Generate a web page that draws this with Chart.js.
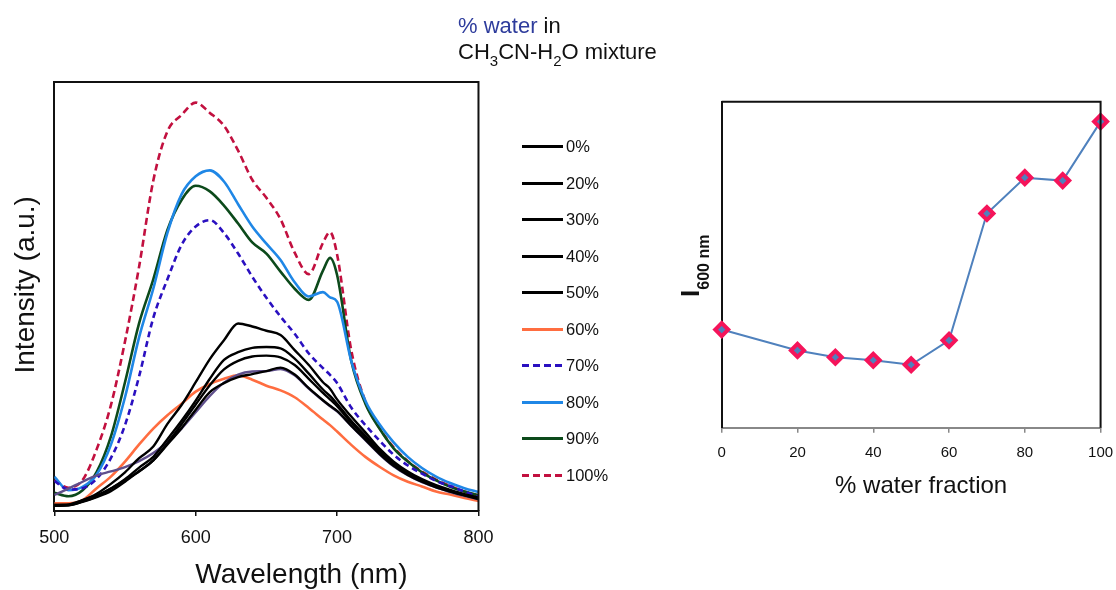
<!DOCTYPE html>
<html lang="en">
<head>
<meta charset="UTF-8">
<title>Emission vs water fraction</title>
<script src="https://cdn.jsdelivr.net/npm/chart.js"></script>
<style>
  body { margin: 0; background: #fff; font-family: 'Liberation Sans', Arial, sans-serif; color: #111; }
  .wrap { position: relative; width: 1116px; height: 590px; overflow: hidden; }
  canvas { position: absolute; top: 0; }
  #spectra { left: 0; }
  #trend { left: 660px; }
  .head { position: absolute; left: 458px; font-size: 22px; line-height: 26px; white-space: nowrap; }
  .head sub { font-size: 15px; vertical-align: baseline; position: relative; top: 7px; }
  .blue { color: #2e3c9c; }
  .legRow { position: absolute; left: 522px; height: 20px; display: flex; align-items: center; font-size: 16.5px; }
  .legLine { width: 41px; height: 3px; margin-right: 3px; }
  #ytitle { position: absolute; left: 675px; top: 297px; transform: rotate(-90deg); transform-origin: left top;
            font-size: 26px; line-height: 30px; font-weight: bold; white-space: nowrap; }
  #ytitle span { font-size: 16px; position: relative; top: 10px; }
</style>
</head>
<body>
<div class="wrap">
  <canvas id="spectra" width="505" height="590"></canvas>
  <canvas id="trend" width="464" height="590"></canvas>
  <div class="head" style="top:13px"><span class="blue">% water</span> in</div>
  <div class="head" style="top:39px">CH<sub>3</sub>CN-H<sub>2</sub>O mixture</div>
  <div id="legend"></div>
  <div id="ytitle">I<span>600 nm</span></div>
</div>
<script>
// wavelengths (nm) and emission intensity (a.u.)
const wavelengths = [500, 510, 520, 530, 540, 550, 560, 570, 580, 590, 600, 610, 620, 630, 640, 650,
                     660, 670, 680, 690, 695, 700, 710, 720, 730, 740, 750, 760, 770, 780, 790, 800];

const water0   = [1.4, 1.4, 2.5, 4.0, 6.3, 9.0, 12.3, 15.0, 20.3, 24.7, 30.0, 35.4, 39.8, 43.7, 43.0, 42.0,
                  41.0, 37.5, 34.0, 30.0, 28.5, 26.0, 22.0, 18.3, 14.5, 11.5, 9.2, 7.4, 6.0, 4.9, 3.9, 3.1];
const water20  = [1.2, 1.3, 2.2, 3.4, 5.2, 7.4, 10.1, 12.6, 16.7, 21.0, 25.7, 30.8, 35.2, 37.0, 38.0, 38.2,
                  37.9, 35.5, 32.0, 28.3, 26.8, 25.0, 21.0, 17.5, 14.0, 11.0, 8.8, 7.1, 5.8, 4.7, 3.8, 3.0];
const water30  = [1.2, 1.3, 2.1, 3.2, 4.6, 6.8, 9.3, 11.8, 15.8, 20.2, 24.8, 29.3, 33.0, 35.0, 36.0, 36.2,
                  35.8, 34.0, 30.8, 27.5, 26.0, 24.4, 20.6, 17.2, 13.7, 10.8, 8.6, 7.0, 5.7, 4.6, 3.7, 2.9];
const water40  = [1.4, 1.5, 2.5, 3.6, 5.2, 7.2, 9.2, 11.8, 15.5, 19.3, 23.6, 27.7, 29.8, 31.2, 31.9, 32.6,
                  33.4, 31.8, 28.6, 25.8, 24.5, 23.3, 19.9, 16.6, 13.3, 10.5, 8.4, 6.8, 5.5, 4.5, 3.6, 2.8];
const water50  = [3.7, 5.2, 6.8, 8.3, 9.2, 10.2, 11.6, 13.5, 16.1, 19.2, 23.0, 26.8, 29.9, 31.8, 32.5, 32.6,
                  33.1, 31.6, 28.5, 25.7, 24.4, 23.2, 19.8, 16.5, 13.2, 10.4, 8.3, 6.7, 5.5, 4.4, 3.5, 2.7];
const water60  = [1.8, 1.8, 2.5, 5.3, 8.0, 11.5, 15.5, 19.2, 22.3, 25.0, 27.8, 29.6, 30.8, 31.6, 30.6, 29.2,
                  28.1, 26.5, 24.0, 21.3, 20.0, 18.5, 15.4, 12.6, 10.3, 8.3, 6.8, 5.7, 4.5, 3.8, 3.0, 2.3];
const water70  = [7.0, 5.0, 5.3, 7.5, 12.3, 20.0, 31.4, 45.0, 54.0, 62.0, 66.3, 67.8, 64.8, 60.0, 54.6, 49.7,
                  45.3, 41.3, 36.7, 33.3, 31.7, 29.8, 24.1, 20.0, 16.4, 13.1, 10.6, 8.7, 7.0, 5.8, 4.5, 3.3];
const water80  = [8.0, 4.8, 5.6, 8.5, 15.4, 26.5, 40.5, 51.8, 64.8, 73.8, 78.0, 79.4, 76.8, 71.5, 66.3, 62.3,
                  58.5, 53.3, 50.0, 51.0, 49.8, 48.8, 35.0, 25.7, 20.2, 16.0, 12.6, 10.0, 8.0, 6.5, 5.3, 4.4];
const water90  = [4.2, 3.4, 4.8, 9.1, 17.3, 30.0, 43.8, 54.0, 65.5, 72.5, 75.8, 74.5, 71.2, 67.0, 62.6, 60.0,
                  55.8, 51.8, 49.2, 56.0, 59.0, 55.0, 35.0, 25.0, 19.2, 14.6, 11.5, 9.0, 7.1, 5.6, 4.5, 3.7];
const water100 = [7.2, 5.4, 7.2, 14.4, 24.6, 39.5, 57.0, 77.0, 88.5, 92.3, 95.2, 92.8, 89.8, 84.0, 77.2, 73.0,
                  68.0, 60.2, 55.2, 62.5, 65.0, 59.8, 37.5, 25.5, 19.3, 14.8, 11.6, 9.2, 7.3, 5.8, 4.5, 3.6];

const seriesLabels = ['0%', '20%', '30%', '40%', '50%', '60%', '70%', '80%', '90%', '100%'];
const spectra = [water0, water20, water30, water40, water50, water60, water70, water80, water90, water100];

// I600 vs % water
const waterFraction = [0, 20, 30, 40, 50, 60, 70, 80, 90, 100];
const intensity600 = [30.1, 23.7, 21.6, 20.7, 19.3, 26.8, 65.7, 76.7, 75.8, 93.9];

const lineColors = ['#000', '#000', '#000', '#000', '#5f4f8c', '#ff6d40', '#2a10c0', '#1f87e6', '#0c4a1b', '#c2103f'];
const legendColors = ['#000', '#000', '#000', '#000', '#000', '#ff6d40', '#2a10c0', '#1f87e6', '#0c4a1b', '#c2103f'];
const dashes = [[], [], [], [], [], [], [6, 4], [], [], [7, 4]];

const family = "'Liberation Sans', Arial, sans-serif";

// top + right edge of the box round the plot
const framePlugin = {
    id: 'frame',
    afterDraw(chart) {
        const { ctx, chartArea: a } = chart;
        ctx.save();
        ctx.strokeStyle = '#111';
        ctx.lineWidth = 2;
        ctx.beginPath();
        ctx.moveTo(a.left, a.top);
        ctx.lineTo(a.right, a.top);
        ctx.lineTo(a.right, a.bottom);
        ctx.stroke();
        ctx.restore();
    }
};

new Chart(document.getElementById('spectra'), {
    type: 'line',
    data: {
        datasets: seriesLabels.map((lab, i) => ({
            label: lab,
            data: wavelengths.map((w, j) => ({ x: w, y: spectra[i][j] })),
            borderColor: lineColors[i],
            borderWidth: i >= 5 ? 2.6 : 2.4,
            borderDash: dashes[i],
            pointRadius: 0,
            cubicInterpolationMode: 'monotone',
            fill: false
        }))
    },
    options: {
        responsive: false,
        animation: false,
        layout: { padding: { left: 0, top: 82, right: 0, bottom: 0 } },
        plugins: { legend: { display: false }, tooltip: { enabled: false } },
        scales: {
            x: {
                type: 'linear', min: 500, max: 800,
                ticks: { stepSize: 100, padding: 11.5, color: '#111', font: { size: 18, family: family } },
                grid: { drawOnChartArea: false, tickLength: 5, color: '#111', lineWidth: 1.5 },
                border: { color: '#111', width: 2 },
                // leading spaces push the title right, as in the original figure
                title: { display: true, text: '         Wavelength (nm)', color: '#111',
                         font: { size: 28, family: family, lineHeight: 1 }, padding: { top: 0.5, bottom: 1 } }
            },
            y: {
                min: 0, max: 100,
                ticks: { display: false },
                grid: { display: false, drawTicks: false },
                border: { color: '#111', width: 2 },
                title: { display: true, text: '   Intensity (a.u.)', color: '#111',
                         font: { size: 28, family: family, lineHeight: 1 }, padding: { top: 12, bottom: 14.3 } }
            }
        }
    },
    plugins: [framePlugin]
});

new Chart(document.getElementById('trend'), {
    type: 'line',
    data: {
        datasets: [{
            label: 'I600',
            data: waterFraction.map((w, i) => ({ x: w, y: intensity600[i] })),
            borderColor: '#4f81bd',
            borderWidth: 2,
            pointStyle: 'rectRot',
            pointRadius: 6.5,
            pointBorderWidth: 4,
            pointBorderColor: '#f5145a',
            pointBackgroundColor: '#4f81bd',
            tension: 0,
            clip: false
        }]
    },
    options: {
        responsive: false,
        animation: false,
        layout: { padding: { left: 61.7, top: 101.7, right: 0, bottom: 91.8 } },
        plugins: { legend: { display: false }, tooltip: { enabled: false } },
        scales: {
            x: {
                type: 'linear', min: 0, max: 100,
                ticks: { stepSize: 20, padding: 10.9, color: '#111', font: { size: 15, family: family } },
                grid: { drawOnChartArea: false, tickLength: 5, color: '#888', lineWidth: 1.5 },
                border: { color: '#888', width: 2 },
                title: { display: true, text: '   % water fraction', color: '#111',
                         font: { size: 24, family: family, lineHeight: 1 }, padding: { top: 1.7, bottom: 0 } }
            },
            y: {
                min: 0, max: 100,
                ticks: { display: false },
                grid: { display: false, drawTicks: false },
                border: { color: '#111', width: 2 }
            }
        }
    },
    plugins: [framePlugin]
});

// legend between the two panels
const legend = document.getElementById('legend');
seriesLabels.forEach((lab, i) => {
    const row = document.createElement('div');
    row.className = 'legRow';
    row.style.top = (146.7 + i * 36.5 - 10) + 'px';
    const line = document.createElement('span');
    line.className = 'legLine';
    const c = legendColors[i];
    if (dashes[i].length) {
        line.style.background = `repeating-linear-gradient(90deg, ${c} 0 7px, transparent 7px 11px)`;
    } else {
        line.style.background = c;
    }
    const txt = document.createElement('span');
    txt.textContent = lab;
    row.appendChild(line);
    row.appendChild(txt);
    legend.appendChild(row);
});
</script>
</body>
</html>
